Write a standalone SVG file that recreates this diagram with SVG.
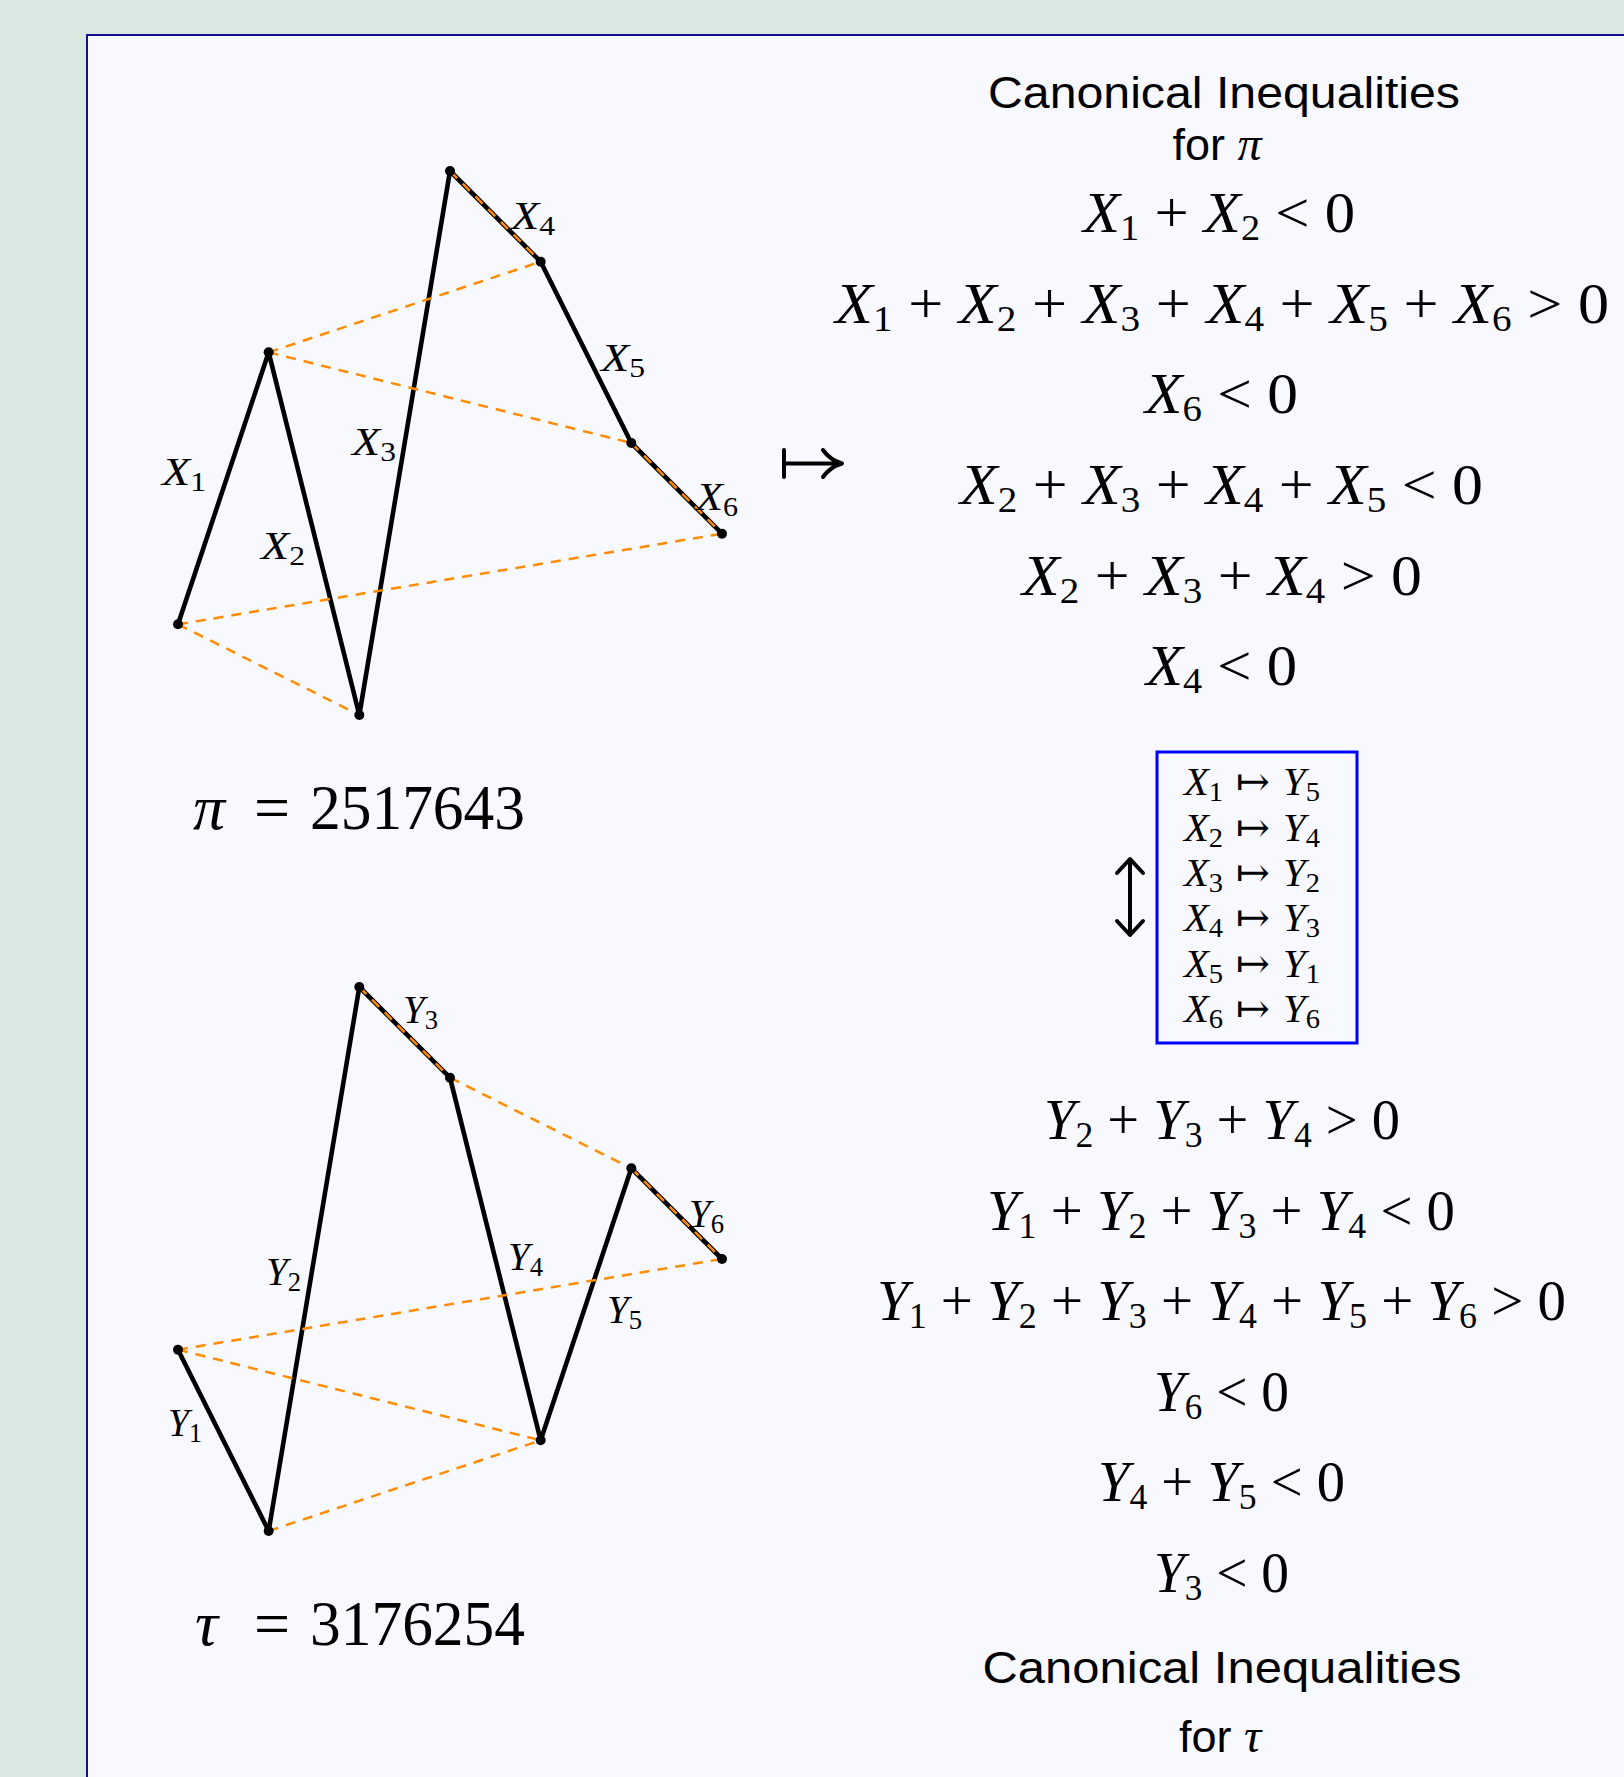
<svg xmlns="http://www.w3.org/2000/svg" width="1624" height="1777" viewBox="0 0 1624 1777">
<style>
.bg{fill:#d9e8e0}
.panel{fill:#f8f9fe;stroke:#101090;stroke-width:2}
.seg{stroke:#000;stroke-width:4.6;fill:none;stroke-linecap:round;stroke-linejoin:round}
.dash{stroke:#ff8c00;stroke-width:2.5;fill:none;stroke-dasharray:10 8}
.dot{fill:#000}
.m{font-family:"Liberation Serif","DejaVu Serif",serif;fill:#000}
.v{font-style:italic}
.lab{font-family:"Liberation Serif","DejaVu Serif",serif;font-size:41px;fill:#000}
.eq{font-family:"Liberation Serif","DejaVu Serif",serif;font-size:57px;fill:#000;text-anchor:middle}
.title{font-family:"Liberation Sans","DejaVu Sans",sans-serif;font-size:45px;fill:#000;text-anchor:middle}
.map{font-family:"Liberation Serif","DejaVu Serif",serif;font-size:40px;fill:#000;text-anchor:middle}
.arr{font-family:"DejaVu Serif","DejaVu Sans",serif;font-style:normal}
.sym{stroke:#000;stroke-width:4;fill:none;stroke-linecap:round;stroke-linejoin:round}
.box{fill:none;stroke:#0000ff;stroke-width:3}
</style>
<rect class="bg" x="0" y="0" width="1624" height="1777"/>
<rect class="panel" x="87" y="35" width="1600" height="1800"/>

<g id="graph-pi">
  <g id="pi-connectors">
    <polyline class="seg" points="178,624.33 268.67,352.33 359.33,715 450,171 540.67,261.67 631.33,443 722,533.67"/>
    <line class="dash" x1="268.67" y1="352.33" x2="540.67" y2="261.67"/>
    <line class="dash" x1="268.67" y1="352.33" x2="631.33" y2="443"/>
    <line class="dash" x1="178" y1="624.33" x2="722" y2="533.67"/>
    <line class="dash" x1="178" y1="624.33" x2="359.33" y2="715"/>
    <line class="dash" x1="450" y1="171" x2="540.67" y2="261.67"/>
    <line class="dash" x1="631.33" y1="443" x2="722" y2="533.67"/>
  </g>
  <g id="pi-points">
    <circle class="dot" cx="178" cy="624.33" r="5"/>
    <circle class="dot" cx="268.67" cy="352.33" r="5"/>
    <circle class="dot" cx="359.33" cy="715" r="5"/>
    <circle class="dot" cx="450" cy="171" r="5"/>
    <circle class="dot" cx="540.67" cy="261.67" r="5"/>
    <circle class="dot" cx="631.33" cy="443" r="5"/>
    <circle class="dot" cx="722" cy="533.67" r="5"/>
  </g>
  <g id="pi-labels">
    <text class="lab" x="162" y="485" textLength="44" lengthAdjust="spacingAndGlyphs"><tspan class="v">X</tspan><tspan font-size="28" dy="6">1</tspan></text>
    <text class="lab" x="261" y="559" textLength="44" lengthAdjust="spacingAndGlyphs"><tspan class="v">X</tspan><tspan font-size="28" dy="6">2</tspan></text>
    <text class="lab" x="352" y="455" textLength="44" lengthAdjust="spacingAndGlyphs"><tspan class="v">X</tspan><tspan font-size="28" dy="6">3</tspan></text>
    <text class="lab" x="511" y="228.5" textLength="44" lengthAdjust="spacingAndGlyphs"><tspan class="v">X</tspan><tspan font-size="28" dy="6">4</tspan></text>
    <text class="lab" x="601" y="371" textLength="44" lengthAdjust="spacingAndGlyphs"><tspan class="v">X</tspan><tspan font-size="28" dy="6">5</tspan></text>
    <text class="lab" x="696" y="510" textLength="42" lengthAdjust="spacingAndGlyphs"><tspan class="v">X</tspan><tspan font-size="28" dy="6">6</tspan></text>
  </g>
  <text id="pi-value" class="m" x="193" y="829" font-size="64"><tspan class="v">π</tspan><tspan x="254">=</tspan><tspan x="310" textLength="215" lengthAdjust="spacingAndGlyphs">2517643</tspan></text>
</g>

<g id="graph-tau">
  <g id="tau-connectors">
    <polyline class="seg" points="178,1349.67 268.67,1531 359.33,987 450,1077.67 540.67,1440.33 631.33,1168.33 722,1259"/>
    <line class="dash" x1="359.33" y1="987" x2="450" y2="1077.67"/>
    <line class="dash" x1="450" y1="1077.67" x2="631.33" y2="1168.33"/>
    <line class="dash" x1="631.33" y1="1168.33" x2="722" y2="1259"/>
    <line class="dash" x1="178" y1="1349.67" x2="722" y2="1259"/>
    <line class="dash" x1="178" y1="1349.67" x2="540.67" y2="1440.33"/>
    <line class="dash" x1="268.67" y1="1531" x2="540.67" y2="1440.33"/>
  </g>
  <g id="tau-points">
    <circle class="dot" cx="178" cy="1349.67" r="5"/>
    <circle class="dot" cx="268.67" cy="1531" r="5"/>
    <circle class="dot" cx="359.33" cy="987" r="5"/>
    <circle class="dot" cx="450" cy="1077.67" r="5"/>
    <circle class="dot" cx="540.67" cy="1440.33" r="5"/>
    <circle class="dot" cx="631.33" cy="1168.33" r="5"/>
    <circle class="dot" cx="722" cy="1259" r="5"/>
  </g>
  <g id="tau-labels">
    <text class="lab" x="168" y="1436" textLength="34" lengthAdjust="spacingAndGlyphs"><tspan class="v">Y</tspan><tspan font-size="28" dy="6">1</tspan></text>
    <text class="lab" x="266" y="1285" textLength="35" lengthAdjust="spacingAndGlyphs"><tspan class="v">Y</tspan><tspan font-size="28" dy="6">2</tspan></text>
    <text class="lab" x="403" y="1022.6" textLength="35" lengthAdjust="spacingAndGlyphs"><tspan class="v">Y</tspan><tspan font-size="28" dy="6">3</tspan></text>
    <text class="lab" x="508" y="1270" textLength="35" lengthAdjust="spacingAndGlyphs"><tspan class="v">Y</tspan><tspan font-size="28" dy="6">4</tspan></text>
    <text class="lab" x="607" y="1323" textLength="35" lengthAdjust="spacingAndGlyphs"><tspan class="v">Y</tspan><tspan font-size="28" dy="6">5</tspan></text>
    <text class="lab" x="689" y="1227" textLength="35" lengthAdjust="spacingAndGlyphs"><tspan class="v">Y</tspan><tspan font-size="28" dy="6">6</tspan></text>
  </g>
  <text id="tau-value" class="m" x="195" y="1645" font-size="64"><tspan class="v">τ</tspan><tspan x="254">=</tspan><tspan x="310" textLength="215" lengthAdjust="spacingAndGlyphs">3176254</tspan></text>
</g>

<g id="mapsto-arrow">
  <path class="sym" d="M784,450 V477 M784,463.5 H840 M823,450 Q830,460 842,463.5 Q830,467 823,477"/>
</g>

<g id="ineq-pi">
  <text class="title" x="1224" y="108" textLength="472" lengthAdjust="spacingAndGlyphs">Canonical Inequalities</text>
  <text class="title" x="1217" y="160">for <tspan class="m v" font-size="48">π</tspan></text>
  <text class="eq" x="1219" y="232" textLength="272" lengthAdjust="spacingAndGlyphs"><tspan class="v">X</tspan><tspan font-size="36" dy="8">1</tspan><tspan dy="-8"> + </tspan><tspan class="v">X</tspan><tspan font-size="36" dy="8">2</tspan><tspan dy="-8"> &lt; 0</tspan></text>
  <text class="eq" x="1222" y="322.7" textLength="774" lengthAdjust="spacingAndGlyphs"><tspan class="v">X</tspan><tspan font-size="36" dy="8">1</tspan><tspan dy="-8"> + </tspan><tspan class="v">X</tspan><tspan font-size="36" dy="8">2</tspan><tspan dy="-8"> + </tspan><tspan class="v">X</tspan><tspan font-size="36" dy="8">3</tspan><tspan dy="-8"> + </tspan><tspan class="v">X</tspan><tspan font-size="36" dy="8">4</tspan><tspan dy="-8"> + </tspan><tspan class="v">X</tspan><tspan font-size="36" dy="8">5</tspan><tspan dy="-8"> + </tspan><tspan class="v">X</tspan><tspan font-size="36" dy="8">6</tspan><tspan dy="-8"> &gt; 0</tspan></text>
  <text class="eq" x="1221.5" y="413.3" textLength="153" lengthAdjust="spacingAndGlyphs"><tspan class="v">X</tspan><tspan font-size="36" dy="8">6</tspan><tspan dy="-8"> &lt; 0</tspan></text>
  <text class="eq" x="1221.5" y="504" textLength="523" lengthAdjust="spacingAndGlyphs"><tspan class="v">X</tspan><tspan font-size="36" dy="8">2</tspan><tspan dy="-8"> + </tspan><tspan class="v">X</tspan><tspan font-size="36" dy="8">3</tspan><tspan dy="-8"> + </tspan><tspan class="v">X</tspan><tspan font-size="36" dy="8">4</tspan><tspan dy="-8"> + </tspan><tspan class="v">X</tspan><tspan font-size="36" dy="8">5</tspan><tspan dy="-8"> &lt; 0</tspan></text>
  <text class="eq" x="1222" y="594.7" textLength="400" lengthAdjust="spacingAndGlyphs"><tspan class="v">X</tspan><tspan font-size="36" dy="8">2</tspan><tspan dy="-8"> + </tspan><tspan class="v">X</tspan><tspan font-size="36" dy="8">3</tspan><tspan dy="-8"> + </tspan><tspan class="v">X</tspan><tspan font-size="36" dy="8">4</tspan><tspan dy="-8"> &gt; 0</tspan></text>
  <text class="eq" x="1221.5" y="685.3" textLength="151" lengthAdjust="spacingAndGlyphs"><tspan class="v">X</tspan><tspan font-size="36" dy="8">4</tspan><tspan dy="-8"> &lt; 0</tspan></text>
</g>

<g id="updown-arrow">
  <path class="sym" d="M1130,860 V934 M1117,873 L1130,859 L1143,873 M1117,921 L1130,935 L1143,921"/>
</g>

<g id="map-box">
  <rect class="box" x="1157" y="752" width="200" height="291"/>
  <text class="map" x="1252" y="795" textLength="136" lengthAdjust="spacingAndGlyphs"><tspan class="v">X</tspan><tspan font-size="28" dy="6">1</tspan><tspan class="arr" dy="-6"> ↦ </tspan><tspan class="v">Y</tspan><tspan font-size="28" dy="6">5</tspan></text>
  <text class="map" x="1252" y="840.7" textLength="136" lengthAdjust="spacingAndGlyphs"><tspan class="v">X</tspan><tspan font-size="28" dy="6">2</tspan><tspan class="arr" dy="-6"> ↦ </tspan><tspan class="v">Y</tspan><tspan font-size="28" dy="6">4</tspan></text>
  <text class="map" x="1252" y="886" textLength="136" lengthAdjust="spacingAndGlyphs"><tspan class="v">X</tspan><tspan font-size="28" dy="6">3</tspan><tspan class="arr" dy="-6"> ↦ </tspan><tspan class="v">Y</tspan><tspan font-size="28" dy="6">2</tspan></text>
  <text class="map" x="1252" y="931.3" textLength="136" lengthAdjust="spacingAndGlyphs"><tspan class="v">X</tspan><tspan font-size="28" dy="6">4</tspan><tspan class="arr" dy="-6"> ↦ </tspan><tspan class="v">Y</tspan><tspan font-size="28" dy="6">3</tspan></text>
  <text class="map" x="1252" y="976.7" textLength="136" lengthAdjust="spacingAndGlyphs"><tspan class="v">X</tspan><tspan font-size="28" dy="6">5</tspan><tspan class="arr" dy="-6"> ↦ </tspan><tspan class="v">Y</tspan><tspan font-size="28" dy="6">1</tspan></text>
  <text class="map" x="1252" y="1022.3" textLength="136" lengthAdjust="spacingAndGlyphs"><tspan class="v">X</tspan><tspan font-size="28" dy="6">6</tspan><tspan class="arr" dy="-6"> ↦ </tspan><tspan class="v">Y</tspan><tspan font-size="28" dy="6">6</tspan></text>
</g>

<g id="ineq-tau">
  <text class="eq" x="1222" y="1139" textLength="356" lengthAdjust="spacingAndGlyphs"><tspan class="v">Y</tspan><tspan font-size="36" dy="8">2</tspan><tspan dy="-8"> + </tspan><tspan class="v">Y</tspan><tspan font-size="36" dy="8">3</tspan><tspan dy="-8"> + </tspan><tspan class="v">Y</tspan><tspan font-size="36" dy="8">4</tspan><tspan dy="-8"> &gt; 0</tspan></text>
  <text class="eq" x="1221" y="1229.5" textLength="468" lengthAdjust="spacingAndGlyphs"><tspan class="v">Y</tspan><tspan font-size="36" dy="8">1</tspan><tspan dy="-8"> + </tspan><tspan class="v">Y</tspan><tspan font-size="36" dy="8">2</tspan><tspan dy="-8"> + </tspan><tspan class="v">Y</tspan><tspan font-size="36" dy="8">3</tspan><tspan dy="-8"> + </tspan><tspan class="v">Y</tspan><tspan font-size="36" dy="8">4</tspan><tspan dy="-8"> &lt; 0</tspan></text>
  <text class="eq" x="1221.5" y="1320" textLength="689" lengthAdjust="spacingAndGlyphs"><tspan class="v">Y</tspan><tspan font-size="36" dy="8">1</tspan><tspan dy="-8"> + </tspan><tspan class="v">Y</tspan><tspan font-size="36" dy="8">2</tspan><tspan dy="-8"> + </tspan><tspan class="v">Y</tspan><tspan font-size="36" dy="8">3</tspan><tspan dy="-8"> + </tspan><tspan class="v">Y</tspan><tspan font-size="36" dy="8">4</tspan><tspan dy="-8"> + </tspan><tspan class="v">Y</tspan><tspan font-size="36" dy="8">5</tspan><tspan dy="-8"> + </tspan><tspan class="v">Y</tspan><tspan font-size="36" dy="8">6</tspan><tspan dy="-8"> &gt; 0</tspan></text>
  <text class="eq" x="1221.5" y="1410.7" textLength="135" lengthAdjust="spacingAndGlyphs"><tspan class="v">Y</tspan><tspan font-size="36" dy="8">6</tspan><tspan dy="-8"> &lt; 0</tspan></text>
  <text class="eq" x="1221.5" y="1501.3" textLength="247" lengthAdjust="spacingAndGlyphs"><tspan class="v">Y</tspan><tspan font-size="36" dy="8">4</tspan><tspan dy="-8"> + </tspan><tspan class="v">Y</tspan><tspan font-size="36" dy="8">5</tspan><tspan dy="-8"> &lt; 0</tspan></text>
  <text class="eq" x="1221.5" y="1592" textLength="135" lengthAdjust="spacingAndGlyphs"><tspan class="v">Y</tspan><tspan font-size="36" dy="8">3</tspan><tspan dy="-8"> &lt; 0</tspan></text>
  <text class="title" x="1222" y="1683" textLength="479" lengthAdjust="spacingAndGlyphs">Canonical Inequalities</text>
  <text class="title" x="1220" y="1752">for <tspan class="m v" font-size="48">τ</tspan></text>
</g>
</svg>
